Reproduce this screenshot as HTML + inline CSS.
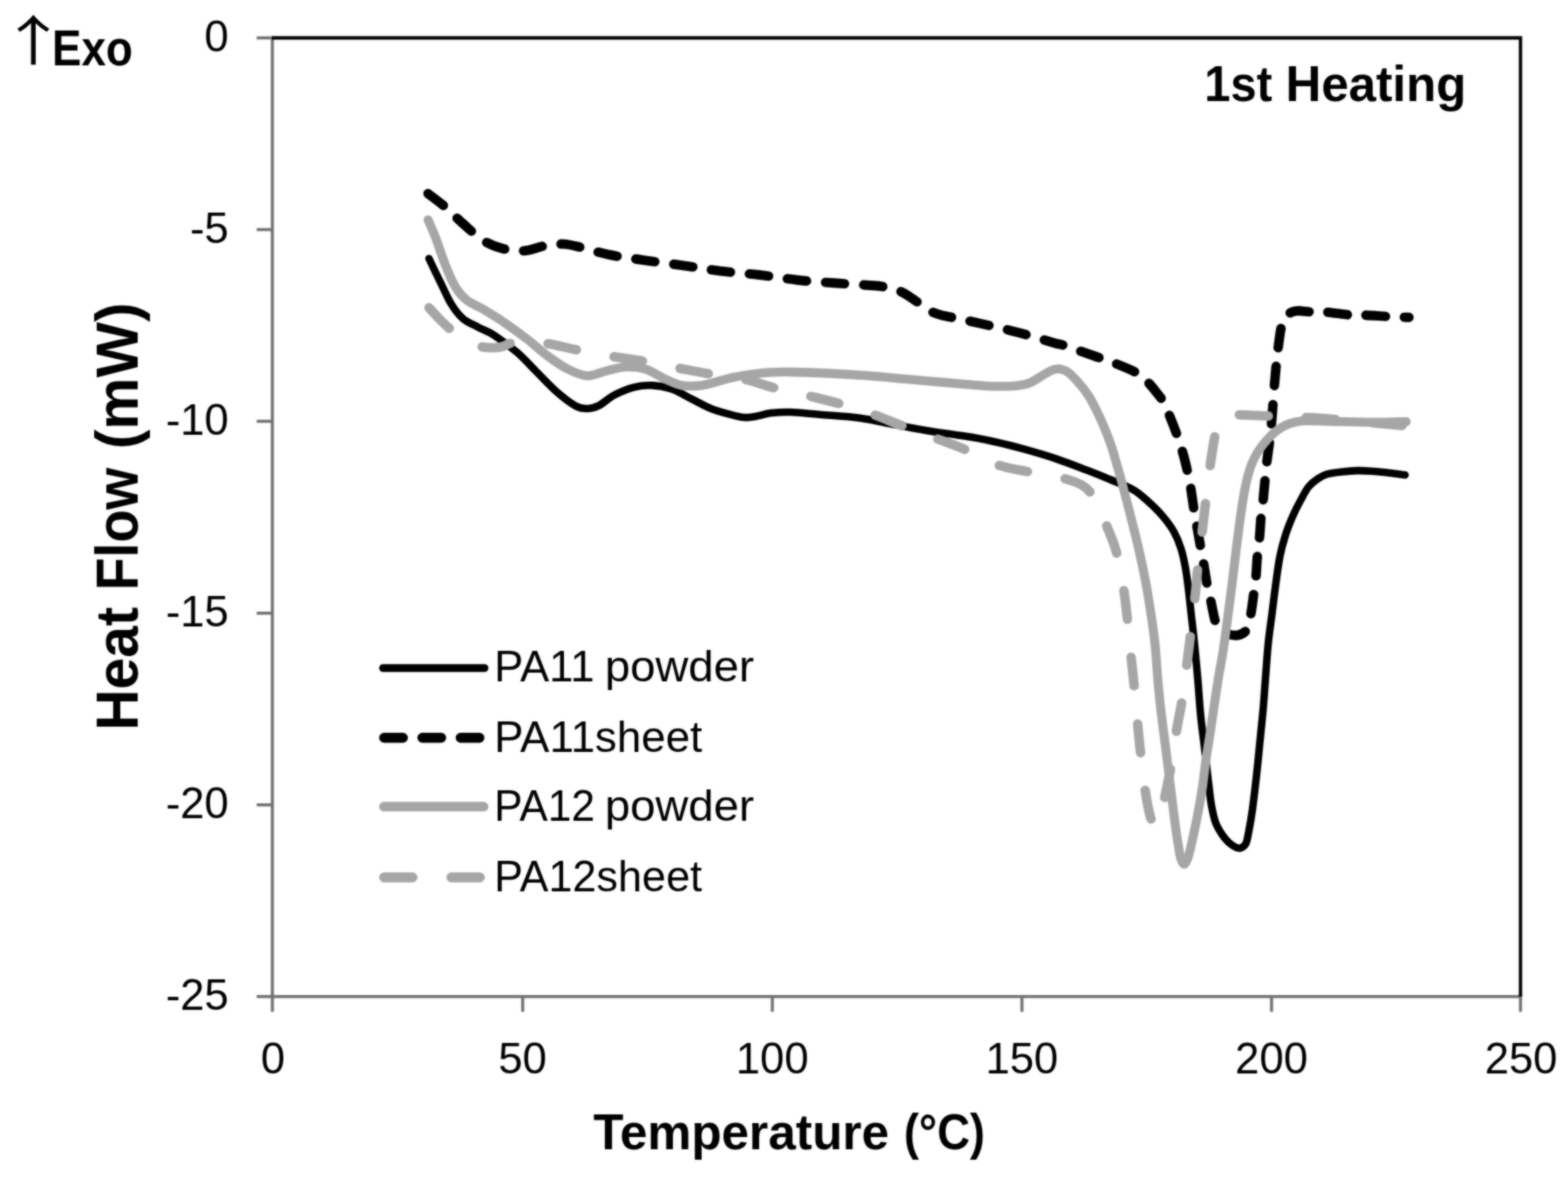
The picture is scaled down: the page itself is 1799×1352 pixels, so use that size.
<!DOCTYPE html>
<html lang="en">
<head>
<meta charset="utf-8">
<title>DSC 1st Heating</title>
<style>
html,body{margin:0;padding:0;background:#fff;}
body{width:1799px;height:1352px;overflow:hidden;}
svg{display:block;}
text{font-family:"Liberation Sans",sans-serif;fill:#000;}
.b{font-weight:bold;}
.tk{font-size:50px;}
.lg{font-size:50px;}
.ar{font-family:"Noto Sans CJK JP","Liberation Sans",sans-serif;}
</style>
</head>
<body>
<svg width="1799" height="1352" viewBox="0 0 1799 1352">
<defs><filter id="soft" x="0" y="0" width="1799" height="1352" filterUnits="userSpaceOnUse" color-interpolation-filters="sRGB"><feGaussianBlur in="SourceGraphic" stdDeviation="0.9" result="b"/><feComposite in="SourceGraphic" in2="b" operator="arithmetic" k1="0" k2="0.3" k3="0.7" k4="0"/></filter></defs>
<g filter="url(#soft)">
<rect x="-10" y="-10" width="1819" height="1372" fill="#ffffff"/>
<g fill="none" stroke-linecap="butt">
<path d="M312.5 41.8V1161.3" stroke="#727272" stroke-width="3.5"/>
<path d="M294.5 1143.8H1746.2" stroke="#727272" stroke-width="3.5"/>
<path d="M294.5 43.5H312.5M294.5 263.6H312.5M294.5 483.6H312.5M294.5 703.7H312.5M294.5 923.7H312.5M599.7 1143.8V1161.3M886.1 1143.8V1161.3M1172.5 1143.8V1161.3M1458.9 1143.8V1161.3M1744.5 1143.8V1161.3" stroke="#727272" stroke-width="3.5"/>
<path d="M312.0 43.5H1744.5V1143.8" stroke="#000" stroke-width="3.8" stroke-linejoin="miter"/>
</g>
<g fill="none" stroke-linecap="round" stroke-linejoin="round">
<path d="M492.2 296.7C494.2 301.0 500.2 313.6 504.5 322.3C508.8 331.0 513.3 341.8 517.8 349.0C522.2 356.2 526.0 361.2 531.2 365.7C536.4 370.1 543.0 372.5 548.9 375.7C554.8 378.9 559.3 379.8 566.7 384.6C574.1 389.4 585.2 397.6 593.4 404.6C601.5 411.6 608.2 419.4 615.6 426.8C623.0 434.2 630.5 442.5 637.9 449.0C645.3 455.5 654.2 462.4 660.1 465.7C666.0 469.0 669.0 469.0 673.5 469.0C678.0 469.0 681.6 468.3 686.8 465.7C692.0 463.1 697.9 457.0 704.6 453.5C711.3 450.0 719.4 446.5 726.8 444.6C734.2 442.8 741.6 442.0 749.0 442.4C756.4 442.8 763.9 444.2 771.3 446.8C778.7 449.4 786.1 454.2 793.5 457.9C800.9 461.6 808.4 466.0 815.8 469.0C823.2 472.0 831.8 474.0 838.0 475.7C844.2 477.4 848.5 478.6 853.3 479.0C858.1 479.4 861.5 478.7 866.7 477.9C871.9 477.1 877.8 474.9 884.5 474.1C891.2 473.3 897.4 472.7 906.7 473.0C916.0 473.3 929.0 474.8 940.1 475.7C951.2 476.6 964.1 477.4 973.4 478.3C982.6 479.2 988.2 480.0 995.6 481.2C1003.0 482.4 1006.8 483.6 1017.9 485.7C1029.0 487.8 1047.5 491.5 1062.3 494.0C1077.1 496.5 1093.8 498.5 1106.8 500.6C1119.8 502.7 1128.5 504.2 1140.0 506.7C1151.5 509.2 1163.7 512.3 1175.6 515.6C1187.5 518.9 1199.3 522.3 1211.2 526.3C1223.1 530.3 1236.4 535.6 1246.8 539.6C1257.2 543.6 1264.6 546.6 1273.5 550.3C1282.4 554.0 1292.8 557.8 1300.0 561.9C1307.2 566.0 1311.1 570.0 1316.7 575.0C1322.3 580.0 1328.4 585.9 1333.4 591.7C1338.4 597.5 1343.1 603.6 1346.7 610.0C1350.3 616.4 1352.9 623.0 1355.1 630.0C1357.3 637.0 1358.7 644.2 1360.1 651.7C1361.5 659.2 1362.3 666.2 1363.4 675.1C1364.5 684.0 1365.6 695.1 1366.7 705.1C1367.8 715.1 1368.8 722.6 1370.1 735.1C1371.4 747.6 1373.0 765.6 1374.3 780.0C1375.5 794.4 1376.2 807.8 1377.6 821.7C1379.0 835.6 1381.1 850.3 1382.6 863.4C1384.1 876.5 1385.5 889.8 1386.8 900.1C1388.0 910.4 1388.7 917.6 1390.1 925.1C1391.5 932.6 1392.6 939.0 1395.1 945.1C1397.6 951.2 1401.8 957.5 1405.1 961.8C1408.4 966.1 1412.2 969.1 1415.1 971.0C1418.0 972.9 1420.2 973.8 1422.6 973.4C1425.0 973.0 1427.6 971.4 1429.3 968.4C1431.0 965.4 1431.3 961.5 1432.6 955.1C1433.8 948.7 1435.3 941.2 1436.8 930.1C1438.3 919.0 1440.3 902.3 1441.8 888.4C1443.3 874.5 1444.8 859.2 1446.0 846.7C1447.2 834.2 1448.3 824.5 1449.3 813.4C1450.3 802.3 1450.8 792.5 1451.8 780.0C1452.8 767.5 1453.8 750.9 1455.1 738.4C1456.3 725.9 1457.9 716.2 1459.3 705.1C1460.7 694.0 1462.0 682.8 1463.5 671.7C1465.0 660.6 1466.6 648.1 1468.5 638.4C1470.4 628.7 1472.6 621.2 1475.1 613.4C1477.6 605.6 1480.7 598.1 1483.5 591.7C1486.3 585.3 1488.8 580.5 1491.8 575.0C1494.8 569.5 1498.0 563.0 1501.4 558.7C1504.8 554.4 1508.5 551.8 1512.1 549.4C1515.6 547.0 1518.0 545.4 1522.7 544.1C1527.4 542.8 1534.3 542.1 1540.1 541.4C1545.9 540.7 1551.9 540.2 1557.4 540.1C1563.0 540.0 1567.4 540.3 1573.4 540.7C1579.4 541.1 1587.0 542.0 1593.4 542.7C1599.9 543.4 1609.0 544.7 1612.1 545.1" stroke="#000" stroke-width="8.6"/>
<path d="M491.1 222.2C494.4 224.8 504.4 232.1 511.1 237.8C517.8 243.6 523.8 250.2 531.2 256.7C538.6 263.2 547.8 271.9 555.6 276.7C563.4 281.5 570.0 283.8 577.8 285.6C585.6 287.5 594.5 288.4 602.3 287.8C610.1 287.2 617.1 283.6 624.5 282.3C631.9 281.0 639.4 279.7 646.8 280.1C654.2 280.5 660.5 282.5 669.0 284.5C677.5 286.5 686.0 289.8 697.9 292.2C709.8 294.6 725.8 296.7 740.2 298.8C754.7 300.9 770.2 302.8 784.6 304.8C799.0 306.9 812.5 309.3 826.9 311.1C841.3 312.9 856.3 313.8 871.1 315.5C885.9 317.2 900.8 319.9 915.6 321.5C930.4 323.1 945.7 323.9 960.1 325.0C974.5 326.1 992.7 327.0 1002.3 327.8C1011.9 328.6 1012.7 328.9 1017.9 330.0C1023.1 331.1 1029.0 332.6 1033.4 334.5C1037.9 336.4 1040.9 338.8 1044.6 341.2C1048.3 343.6 1051.6 346.1 1055.7 348.9C1059.8 351.7 1064.5 355.6 1069.0 357.8C1073.5 360.0 1078.0 361.1 1082.4 362.3C1086.9 363.5 1088.7 363.5 1095.7 365.0C1102.7 366.5 1112.8 368.5 1124.6 371.2C1136.4 373.9 1152.7 377.5 1166.8 381.2C1180.9 384.9 1199.9 390.8 1209.1 393.4C1218.2 396.0 1214.9 394.5 1221.7 396.7C1228.5 398.9 1240.5 403.4 1250.0 406.7C1259.5 410.0 1269.2 413.1 1278.4 416.7C1287.6 420.3 1298.7 424.8 1305.1 428.4C1311.5 432.0 1313.1 434.8 1316.7 438.4C1320.3 442.0 1323.6 446.2 1326.7 450.1C1329.8 454.0 1332.6 457.3 1335.1 461.7C1337.6 466.1 1339.2 470.6 1341.7 476.7C1344.2 482.8 1347.6 491.4 1350.1 498.4C1352.6 505.3 1354.6 511.2 1356.7 518.4C1358.8 525.6 1361.1 535.1 1362.6 541.8C1364.1 548.4 1364.7 550.8 1365.9 558.3C1367.2 565.8 1368.8 578.9 1370.1 586.7C1371.3 594.5 1372.2 598.0 1373.4 605.0C1374.7 612.0 1376.3 621.4 1377.6 628.4C1378.8 635.4 1379.7 639.5 1380.9 646.7C1382.2 653.9 1383.7 664.5 1385.1 671.7C1386.5 678.9 1387.6 682.9 1389.3 690.1C1391.0 697.3 1392.5 709.1 1395.1 715.1C1397.7 721.1 1400.8 723.7 1405.0 726.0C1409.2 728.3 1415.8 729.7 1420.1 729.0C1424.4 728.3 1428.5 726.0 1431.0 722.0C1433.5 718.0 1433.9 711.8 1435.1 705.1C1436.3 698.4 1437.4 688.9 1438.4 681.7C1439.4 674.5 1440.3 668.9 1441.0 661.7C1441.7 654.5 1441.9 645.9 1442.6 638.4C1443.3 630.9 1444.4 624.2 1445.1 616.7C1445.8 609.2 1446.1 600.6 1446.8 593.4C1447.5 586.2 1448.6 579.7 1449.3 573.3C1450.0 566.9 1450.3 562.2 1451.0 555.0C1451.7 547.8 1452.5 538.4 1453.5 530.1C1454.5 521.8 1455.8 513.4 1456.8 505.1C1457.8 496.8 1458.5 489.8 1459.3 480.1C1460.1 470.4 1461.0 457.0 1461.8 446.7C1462.6 436.4 1463.5 426.7 1464.3 418.4C1465.1 410.1 1465.8 403.9 1466.8 396.7C1467.8 389.5 1468.7 380.6 1470.1 375.0C1471.5 369.4 1473.1 366.2 1475.1 363.4C1477.0 360.6 1479.3 359.4 1481.8 358.3C1484.3 357.2 1486.4 356.8 1490.1 356.7C1493.8 356.6 1499.0 357.8 1504.0 358.0C1509.0 358.2 1512.7 357.4 1520.0 358.0C1527.3 358.6 1540.7 360.8 1548.0 361.4C1555.3 362.0 1556.4 361.3 1564.0 361.6C1571.6 361.9 1584.7 362.9 1593.4 363.4C1602.2 363.8 1612.7 364.1 1616.5 364.3" stroke="#000" stroke-width="10.9" stroke-dasharray="22.1 21.75"/>
<path d="M491.1 252.3C492.6 255.8 496.7 264.7 500.0 273.4C503.3 282.1 507.4 295.2 511.1 304.5C514.8 313.8 518.2 322.3 522.3 329.0C526.4 335.7 530.0 340.1 535.6 344.5C541.2 348.9 548.2 351.2 555.6 355.7C563.0 360.1 572.0 365.6 580.1 371.2C588.2 376.8 596.4 382.7 604.5 389.0C612.6 395.3 621.2 403.2 629.0 409.0C636.8 414.8 643.8 419.8 651.2 423.5C658.6 427.2 666.1 430.9 673.5 431.3C680.9 431.7 688.3 427.4 695.7 425.7C703.1 424.0 710.5 421.6 717.9 421.2C725.3 420.8 732.8 421.3 740.2 423.5C747.6 425.7 755.4 431.5 762.4 434.6C769.4 437.8 775.4 441.1 782.4 442.4C789.4 443.7 797.2 443.3 804.6 442.4C812.0 441.5 821.0 438.3 826.9 436.8C832.8 435.3 834.1 434.6 840.0 433.4C845.9 432.2 854.8 430.5 862.2 429.5C869.6 428.5 877.1 427.7 884.5 427.3C891.9 426.9 895.6 426.8 906.7 427.0C917.8 427.2 936.4 427.8 951.2 428.5C966.0 429.2 980.8 430.1 995.6 431.2C1010.4 432.3 1025.3 433.9 1040.1 435.2C1054.9 436.5 1069.8 437.7 1084.6 439.0C1099.4 440.3 1117.9 442.1 1129.0 442.8C1140.1 443.5 1144.6 443.5 1151.3 443.4C1158.0 443.3 1163.9 443.0 1169.1 442.3C1174.3 441.6 1178.0 440.9 1182.4 439.0C1186.8 437.1 1191.6 433.5 1195.7 431.2C1199.8 428.9 1203.7 426.3 1206.9 425.0C1210.1 423.7 1211.7 423.1 1214.7 423.4C1217.7 423.7 1221.0 424.3 1224.7 426.8C1228.4 429.3 1232.8 434.0 1236.7 438.4C1240.7 442.8 1244.8 447.8 1248.4 453.4C1252.0 458.9 1255.4 465.6 1258.4 471.7C1261.5 477.8 1263.9 483.4 1266.7 490.1C1269.5 496.8 1272.6 504.9 1275.0 511.8C1277.4 518.8 1278.9 524.6 1281.0 531.8C1283.1 539.0 1285.0 545.6 1287.5 555.0C1290.0 564.4 1293.2 576.7 1296.2 588.4C1299.2 600.1 1302.4 612.5 1305.3 625.0C1308.2 637.5 1311.1 650.6 1313.6 663.4C1316.1 676.2 1318.2 689.2 1320.1 701.7C1322.0 714.2 1323.7 725.4 1325.1 738.4C1326.5 751.4 1327.3 767.5 1328.4 780.0C1329.5 792.5 1330.5 802.3 1331.7 813.4C1333.0 824.5 1334.5 835.6 1335.9 846.7C1337.3 857.8 1338.7 869.0 1340.1 880.1C1341.5 891.2 1342.8 902.3 1344.2 913.4C1345.6 924.5 1347.1 937.1 1348.4 946.8C1349.7 956.5 1351.1 965.3 1352.2 971.8C1353.3 978.2 1353.7 982.2 1354.8 985.5C1355.9 988.8 1357.3 991.8 1358.6 991.8C1359.9 991.8 1361.3 988.8 1362.6 985.5C1363.9 982.2 1364.5 979.6 1366.3 971.8C1368.1 963.9 1371.2 949.5 1373.4 938.4C1375.6 927.3 1377.6 915.9 1379.3 905.1C1381.0 894.3 1382.0 883.1 1383.4 873.4C1384.8 863.7 1386.2 855.9 1387.6 846.7C1389.0 837.5 1390.1 829.5 1391.8 818.4C1393.5 807.3 1395.7 791.9 1397.6 780.0C1399.5 768.1 1401.6 758.4 1403.4 746.8C1405.2 735.1 1406.7 722.6 1408.4 710.1C1410.1 697.6 1411.7 685.1 1413.4 671.7C1415.1 658.4 1416.7 643.3 1418.4 630.0C1420.1 616.7 1422.0 601.7 1423.4 591.7C1424.8 581.7 1425.6 576.6 1426.7 570.0C1427.8 563.4 1429.0 557.5 1430.2 552.3C1431.4 547.1 1432.5 543.1 1433.8 539.0C1435.1 534.9 1436.5 531.1 1438.3 527.4C1440.1 523.7 1442.0 520.4 1444.5 516.7C1447.0 513.0 1450.4 508.6 1453.4 505.2C1456.4 501.8 1459.3 498.8 1462.3 496.3C1465.3 493.8 1468.2 491.7 1471.2 490.0C1474.2 488.3 1477.1 487.0 1480.1 486.0C1483.1 485.0 1486.0 484.3 1489.0 483.8C1492.0 483.3 1492.0 482.9 1497.9 482.9C1503.8 482.9 1512.0 483.3 1524.6 483.6C1537.2 483.9 1558.6 484.6 1573.4 484.7C1588.2 484.8 1606.7 484.1 1613.4 484.0" stroke="#a6a6a6" stroke-width="10.3"/>
<path d="M492.3 353.3C494.2 355.4 499.9 361.9 504.0 366.0C508.1 370.1 511.8 373.8 517.0 378.0C522.2 382.2 529.0 388.2 535.0 391.5C541.0 394.8 547.2 396.7 552.7 398.0C558.2 399.3 563.8 399.2 568.0 399.1C572.2 399.0 575.0 398.2 578.0 397.3C581.0 396.4 581.0 394.8 586.0 394.0C591.0 393.2 600.7 392.4 608.0 392.5C615.3 392.6 621.2 393.2 630.0 394.7C638.8 396.2 649.0 399.0 661.0 401.4C673.0 403.8 689.2 406.8 702.0 409.0C714.8 411.2 725.3 412.3 738.0 414.5C750.7 416.7 765.4 420.0 778.0 422.4C790.6 424.8 800.5 426.8 813.5 429.0C826.5 431.2 843.6 433.0 856.0 435.7C868.4 438.4 875.8 441.9 888.0 445.0C900.2 448.1 916.4 451.5 929.0 454.6C941.6 457.7 951.2 459.9 963.4 463.4C975.6 466.9 990.0 471.4 1002.0 475.7C1014.0 480.0 1023.6 484.4 1035.7 489.0C1047.8 493.6 1062.8 499.1 1074.6 503.5C1086.4 507.9 1095.1 510.7 1106.8 515.7C1118.5 520.7 1132.6 529.2 1144.6 533.5C1156.6 537.8 1166.4 538.7 1179.0 541.3C1191.6 543.9 1209.8 546.5 1220.0 549.0C1230.2 551.5 1235.0 553.5 1240.0 556.0C1245.0 558.5 1246.7 560.0 1250.0 564.0C1253.3 568.0 1256.8 573.7 1260.0 580.0C1263.2 586.3 1265.5 592.7 1269.0 601.7C1272.5 610.7 1277.7 621.8 1281.0 634.0C1284.3 646.2 1286.9 662.3 1289.0 675.0C1291.1 687.7 1292.0 697.2 1293.4 710.0C1294.8 722.8 1296.2 739.3 1297.5 751.8C1298.8 764.3 1299.8 772.3 1301.0 785.0C1302.2 797.7 1303.8 815.1 1305.0 828.0C1306.2 840.9 1307.0 849.8 1308.4 862.5C1309.8 875.2 1311.5 891.4 1313.4 904.0C1315.3 916.6 1317.9 930.8 1320.0 938.0C1322.1 945.2 1324.2 947.0 1326.0 947.0C1327.8 947.0 1329.2 943.6 1331.0 938.0C1332.8 932.4 1334.6 923.1 1336.7 913.4C1338.8 903.7 1341.2 892.6 1343.4 880.0C1345.6 867.4 1347.9 850.0 1350.0 837.5C1352.1 825.0 1354.0 817.5 1356.0 805.0C1358.0 792.5 1360.0 775.5 1361.7 762.6C1363.4 749.7 1364.5 740.4 1366.0 727.6C1367.5 714.8 1369.6 698.6 1371.0 686.0C1372.4 673.4 1372.9 664.4 1374.3 651.7C1375.7 639.0 1377.8 622.8 1379.3 610.0C1380.8 597.2 1381.9 587.5 1383.4 575.0C1384.9 562.5 1386.6 547.8 1388.4 535.0C1390.2 522.2 1392.4 506.9 1394.3 498.4C1396.2 489.9 1397.7 487.6 1400.0 484.0C1402.3 480.4 1404.9 478.3 1408.0 477.0C1411.1 475.7 1410.1 475.9 1418.4 476.0C1426.7 476.1 1444.7 477.1 1457.6 477.6C1470.5 478.1 1482.3 478.3 1496.0 479.0C1509.7 479.7 1527.2 481.0 1540.0 482.0C1552.8 483.0 1560.8 484.1 1573.0 485.2C1585.2 486.3 1606.3 488.2 1613.0 488.8" stroke="#a6a6a6" stroke-width="10.9" stroke-dasharray="33.1 43.8"/>
<path d="M439.5 766.7H555.9" stroke="#000" stroke-width="9"/>
<path d="M440.7 846.8H560" stroke="#000" stroke-width="11.4" stroke-dasharray="21.6 22.3"/>
<path d="M440.5 925.8H554.9" stroke="#a6a6a6" stroke-width="11"/>
<path d="M440.7 1007H560" stroke="#a6a6a6" stroke-width="11.4" stroke-dasharray="32.6 44.6"/>
</g>
<g class="tk" text-anchor="end">
<text x="262.4" y="58.9">0</text>
<text x="262.4" y="279.0">-5</text>
<text x="262.4" y="499.0">-10</text>
<text x="262.4" y="719.1">-15</text>
<text x="262.4" y="939.1">-20</text>
<text x="262.4" y="1159.2">-25</text>
</g>
<g class="tk" text-anchor="middle">
<text x="313.2" y="1232">0</text>
<text x="599.6" y="1232">50</text>
<text x="886.0" y="1232">100</text>
<text x="1172.4" y="1232">150</text>
<text x="1458.8" y="1232">200</text>
<text x="1745.2" y="1232">250</text>
</g>
<g class="lg">
<text y="781.6"><tspan x="567.0" textLength="115.0" lengthAdjust="spacingAndGlyphs">PA11</tspan> <tspan x="693.9" textLength="171.2" lengthAdjust="spacingAndGlyphs">powder</tspan></text>
<text y="862.5"><tspan x="567.0" textLength="238.7" lengthAdjust="spacingAndGlyphs">PA11sheet</tspan></text>
<text y="941.6"><tspan x="567.1" textLength="115.5" lengthAdjust="spacingAndGlyphs">PA12</tspan> <tspan x="693.9" textLength="171.2" lengthAdjust="spacingAndGlyphs">powder</tspan></text>
<text y="1022.5"><tspan x="567.0" textLength="238.4" lengthAdjust="spacingAndGlyphs">PA12sheet</tspan></text>
</g>
<text class="b" y="1319.4" font-size="57"><tspan x="680.7" textLength="339.5" lengthAdjust="spacingAndGlyphs">Temperature</tspan> <tspan x="1036.9" textLength="93.3" lengthAdjust="spacingAndGlyphs">(°C)</tspan></text>
<text class="b" transform="translate(157.9 0) rotate(-90)" y="0" font-size="68"><tspan x="-838.6" textLength="141.9" lengthAdjust="spacingAndGlyphs">Heat</tspan> <tspan x="-677.8" textLength="141.1" lengthAdjust="spacingAndGlyphs">Flow</tspan> <tspan x="-515.6" textLength="168.5" lengthAdjust="spacingAndGlyphs">(mW)</tspan></text>
<text class="b" y="116.2" font-size="57"><tspan x="1381.8" textLength="77.9" lengthAdjust="spacingAndGlyphs">1st</tspan> <tspan x="1475.1" textLength="207.3" lengthAdjust="spacingAndGlyphs">Heating</tspan></text>
<text><tspan class="ar" y="69.5" font-size="62" x="-1.1" textLength="78.6" lengthAdjust="spacingAndGlyphs">↑</tspan><tspan class="b" y="74.5" font-size="57" x="59.8" textLength="92.5" lengthAdjust="spacingAndGlyphs">Exo</tspan></text>
</g>
</svg>
</body>
</html>
